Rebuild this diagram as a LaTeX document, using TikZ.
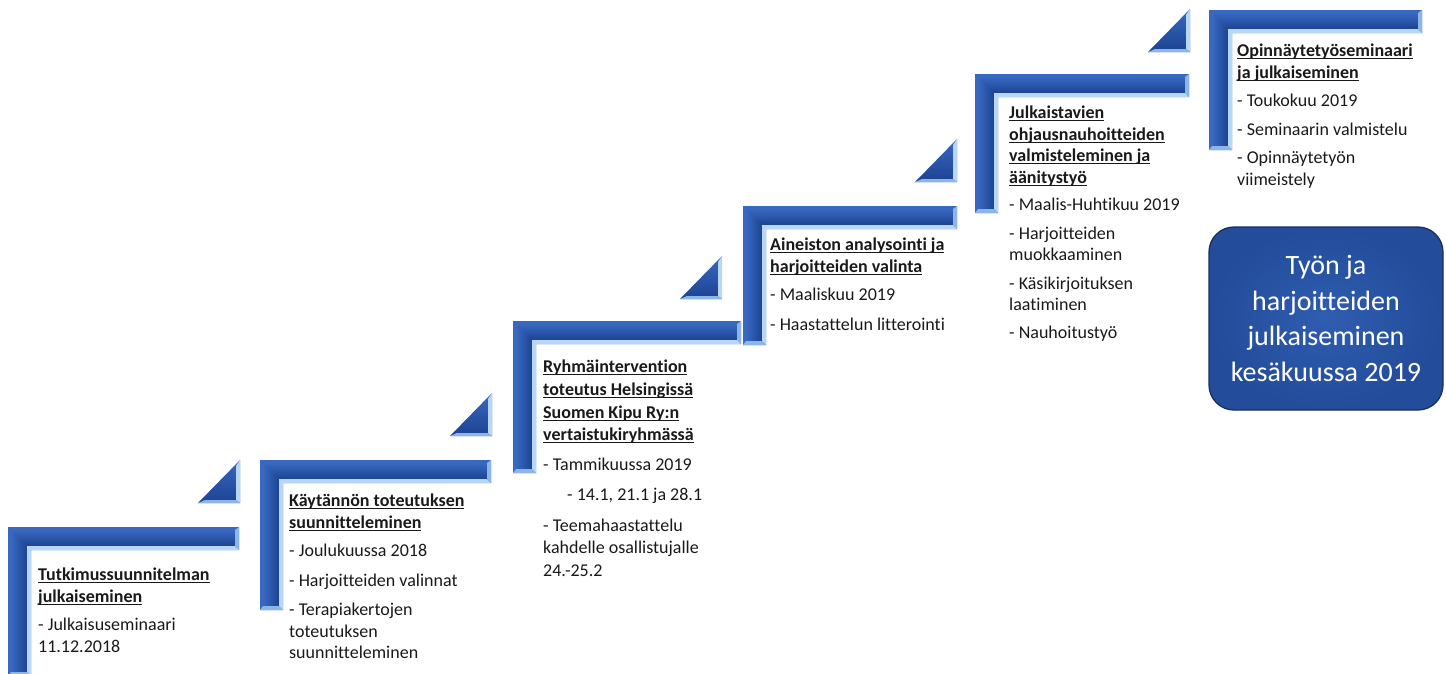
\documentclass[tikz,border=0pt]{standalone}
\usepackage{fontspec}
\setmainfont{Carlito}[Ligatures={NoCommon,NoContextual}]
\usepackage{xcolor}
\usepackage{tikz}
\usetikzlibrary{shapes}

\definecolor{barmid}{HTML}{3868C0}
\definecolor{bardark}{HTML}{1D4392}
\definecolor{barlight}{HTML}{B8D6F5}
\definecolor{barend}{HTML}{8DB6E8}
\definecolor{boxblue}{HTML}{2F5DB0}
\definecolor{boxdark}{HTML}{234C9A}
\definecolor{boxedge}{HTML}{1B2F5A}

% underlined bold title line
\newcommand{\steptitle}[1]{\setbox0\hbox{\bfseries #1}\rlap{\rule[-2.4pt]{\wd0}{1pt}}\box0}

% bevelled corner: left, top, right end, bottom end
\newcommand{\stepbar}[4]{%
  \fill[barmid] (#1,#2) -- (#3,#2) -- (#3,#2+23) -- (#1+23,#2+23) -- (#1+23,#4) -- (#1,#4) -- cycle;
  \shade[top color=barmid, bottom color=bardark] (#1+3,#2+3) -- (#3-4,#2+3) -- (#3-4,#2+19) -- (#1+19,#2+19) -- cycle;
  \shade[left color=barmid, right color=bardark] (#1+3,#2+3) -- (#1+19,#2+19) -- (#1+19,#4-4) -- (#1+3,#4-4) -- cycle;
  \fill[barlight] (#1+19,#2+19) -- (#3-4,#2+19) -- (#3,#2+23) -- (#1+23,#2+23) -- (#1+23,#4) -- (#1+19,#4-4) -- cycle;
  \fill[barend] (#3-4,#2+3) -- (#3,#2) -- (#3,#2+23) -- (#3-4,#2+19) -- cycle;
  \fill[barend] (#1+3,#4-4) -- (#1+19,#4-4) -- (#1+23,#4) -- (#1,#4) -- cycle;
}

% bevelled triangle: right edge, bottom edge
\newcommand{\steptri}[2]{%
  \shade[top color=barmid, bottom color=bardark] (#1-42,#2) -- (#1,#2) -- (#1,#2-43) -- cycle;
  \fill[barlight] (#1-4,#2-37) -- (#1,#2-43) -- (#1,#2) -- (#1-4,#2-3) -- cycle;
  \fill[barend] (#1-35,#2-3) -- (#1-4,#2-3) -- (#1,#2) -- (#1-42,#2) -- cycle;
}

\begin{document}
\begin{tikzpicture}[x=1pt, y=-1pt,
    steptext/.style={anchor=north west, inner sep=0pt, align=left, text=black!90,
      font=\fontsize{18}{21.5}\selectfont},
    endbox/.style={rounded corners=25pt, minimum width=234pt, minimum height=183pt,
      draw=boxedge, line width=1.3pt, inner color=boxblue, outer color=boxdark,
      text=white, align=center, font=\fontsize{28}{35.5}\selectfont}]
    \useasboundingbox (0,0) rectangle (1446,673);

    % corners and triangles
    \stepbar{8}{527}{239}{676}
    \steptri{240}{503}
    \stepbar{260}{460}{491}{610}
    \steptri{492}{436}
    \stepbar{513}{321}{741}{473}
    \steptri{722}{299}
    \stepbar{743}{206}{957}{345}
    \steptri{957}{182}
    \stepbar{975}{74}{1189}{213}
    \steptri{1190}{52}
    \stepbar{1209}{10}{1422}{150}

    % texts
    \node[steptext] (tutkimus) at (38,568) {\steptitle{Tutkimussuunnitelman}\\
      \steptitle{julkaiseminen}\\[7pt]
      - Julkaisuseminaari\\ 11.12.2018};
    \node[steptext] (kaytanto) at (289,494) {\steptitle{Käytännön toteutuksen}\\
      \steptitle{suunnitteleminen}\\[7pt]
      - Joulukuussa 2018\\[8pt]
      - Harjoitteiden valinnat\\[8pt]
      - Terapiakertojen\\ toteutuksen\\ suunnitteleminen};
    \node[steptext, font=\fontsize{18}{22.7}\selectfont] (ryhma) at (543,360) {\steptitle{Ryhmäintervention}\\
      \steptitle{toteutus Helsingissä}\\
      \steptitle{Suomen Kipu Ry:n}\\
      \steptitle{vertaistukiryhmässä}\\[7pt]
      - Tammikuussa 2019\\[7pt]
      \hspace*{24pt}- 14.1, 21.1 ja 28.1\\[8pt]
      - Teemahaastattelu\\ kahdelle osallistujalle\\ 24.-25.2};
    \node[steptext] (aineisto) at (770,238) {\steptitle{Aineiston analysointi ja}\\
      \steptitle{harjoitteiden valinta}\\[7pt]
      - Maaliskuu 2019\\[8pt]
      - Haastattelun litterointi};
    \node[steptext] (nauhoite) at (1009,106) {\steptitle{Julkaistavien}\\
      \steptitle{ohjausnauhoitteiden}\\
      \steptitle{valmisteleminen ja}\\
      \steptitle{äänitystyö}\\[6pt]
      - Maalis-Huhtikuu 2019\\[7pt]
      - Harjoitteiden\\ muokkaaminen\\[7pt]
      - Käsikirjoituksen\\ laatiminen\\[6pt]
      - Nauhoitustyö};
    \node[steptext] (seminaari) at (1237,44) {\steptitle{Opinnäytetyöseminaari}\\
      \steptitle{ja julkaiseminen}\\[7pt]
      - Toukokuu 2019\\[7pt]
      - Seminaarin valmistelu\\[7pt]
      - Opinnäytetyön\\ viimeistely};

    \node[endbox] (julkaisu) at (1326,318.5) {Työn ja\\ harjoitteiden\\ julkaiseminen\\ kesäkuussa 2019};
\end{tikzpicture}
\end{document}
